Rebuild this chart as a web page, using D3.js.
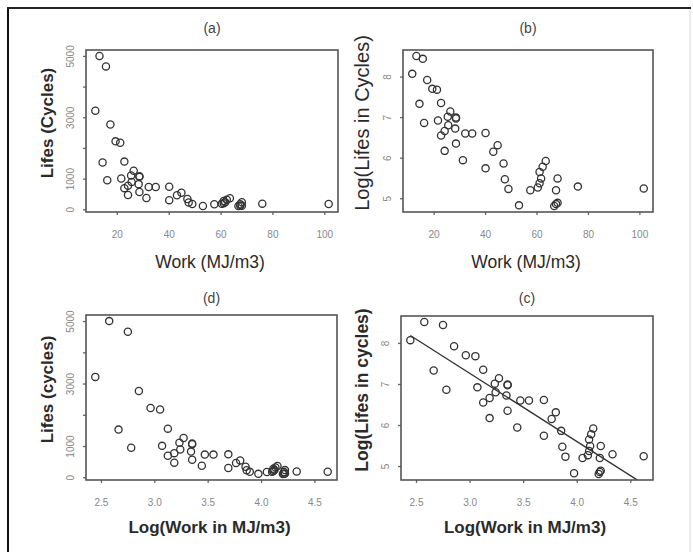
<!DOCTYPE html>
<html>
<head>
<meta charset="utf-8">
<script src="https://cdn.jsdelivr.net/npm/d3@7/dist/d3.min.js"></script>
<style>
  body { margin: 0; background: #fff; }
  svg { display: block; }
</style>
</head>
<body>
<script>
'use strict';

// values: work in MJ/m3, lifes in cycles
var work = [11.5, 13.1, 15.6, 17.3, 19.3, 21.1, 14.3, 22.7, 16.1, 21.5,
  25.3, 26.3, 28.5, 28.5, 22.7, 24.1, 25.5, 28.2, 24.1, 28.5,
  31.2, 32.1, 34.8, 40.0, 44.7, 43.0, 40.0, 47.0, 47.5, 48.9,
  53.0, 57.4, 60.3, 61.0, 61.6, 61.0, 62.2, 63.4, 68.0, 67.4,
  68.0, 67.4, 66.7, 75.9, 101.5]
var lifes = [3229, 5014, 4675, 2779, 2231, 2187, 1541, 1572, 963, 1022,
  1119, 1274, 1075, 1097, 706, 788, 907, 837, 483, 578,
  384, 742, 742, 750, 556, 473, 314, 354, 240, 189,
  126, 183, 196, 217, 245, 287, 327, 376, 245, 183,
  134, 130, 124, 200, 191]

var workTicks = [20, 40, 60, 80, 100]
var lifeTicks = [0, 1000, 2000, 3000, 4000, 5000]
var lifeTickLabels = ['0', '1000', '', '3000', '', '5000']
var logLifeTicks = [5, 6, 7, 8]
var logWorkTicks = [2.5, 3, 3.5, 4, 4.5]
var logWorkTickLabels = ['2.5', '3.0', '3.5', '4.0', '4.5']

var width = 693, height = 552

var svg = d3.select('body').append('svg')
    .attr('width', width)
    .attr('height', height)

// outer frame
svg.append('line').attr('x1', 8).attr('y1', 8).attr('x2', 8).attr('y2', height)
    .attr('stroke', '#111').attr('stroke-width', 2)
svg.append('line').attr('x1', 7).attr('y1', 8).attr('x2', 691).attr('y2', 8)
    .attr('stroke', '#222').attr('stroke-width', 2)
svg.append('line').attr('x1', 690).attr('y1', 9).attr('x2', 690).attr('y2', height)
    .attr('stroke', '#d8d8d8').attr('stroke-width', 1)

var logWork = work.map(function(d){ return Math.log(d) })
var logLifes = lifes.map(function(d){ return Math.log(d) })

// least squares fit for panel (c)
function fit(xs, ys) {
  var mx = d3.mean(xs), my = d3.mean(ys)
  var sxy = d3.sum(xs, function(d, i){ return (d - mx) * (ys[i] - my) })
  var sxx = d3.sum(xs, function(d){ return (d - mx) * (d - mx) })
  var b = sxy / sxx
  return {a: my - b * mx, b: b}
}

var panels = [
  {id: 'a', title: '(a)', box: [86, 50, 338, 212], titleY: 28,
   x: work, y: lifes, xTicks: workTicks, xLabels: workTicks.map(String),
   yTicks: lifeTicks, yLabels: lifeTickLabels,
   xTitle: 'Work (MJ/m3)', xBold: false, xTitleY: 268,
   yTitle: 'Lifes (Cycles)', yBold: true, ySize: 17, yTitleX: 47},
  {id: 'b', title: '(b)', box: [403, 50, 653, 212], titleY: 28,
   x: work, y: logLifes, xTicks: workTicks, xLabels: workTicks.map(String),
   yTicks: logLifeTicks, yLabels: logLifeTicks.map(String),
   xTitle: 'Work (MJ/m3)', xBold: false, xTitleY: 268,
   yTitle: 'Log(Lifes in Cycles)', yBold: false, ySize: 20, yTitleX: 362},
  {id: 'd', title: '(d)', box: [86, 315, 337, 480], titleY: 298,
   x: logWork, y: lifes, xTicks: logWorkTicks, xLabels: logWorkTickLabels,
   yTicks: lifeTicks, yLabels: lifeTickLabels,
   xTitle: 'Log(Work in MJ/m3)', xBold: true, xTitleY: 533,
   yTitle: 'Lifes (cycles)', yBold: true, ySize: 17, yTitleX: 47},
  {id: 'c', title: '(c)', box: [401, 316, 653, 480], titleY: 298,
   x: logWork, y: logLifes, xTicks: logWorkTicks, xLabels: logWorkTickLabels,
   yTicks: logLifeTicks, yLabels: logLifeTicks.map(String),
   xTitle: 'Log(Work in MJ/m3)', xBold: true, xTitleY: 533,
   yTitle: 'Log(Lifes in cycles)', yBold: true, ySize: 17.5, yTitleX: 362,
   fitLine: true}
]

// R style axis range: data extent padded by 4% each side
function padded(values) {
  var e = d3.extent(values), r = e[1] - e[0]
  return [e[0] - 0.04 * r, e[1] + 0.04 * r]
}

panels.forEach(function(p){
  var x0 = p.box[0], y0 = p.box[1], x1 = p.box[2], y1 = p.box[3]
  var x = d3.scaleLinear().domain(padded(p.x)).range([x0, x1])
  var y = d3.scaleLinear().domain(padded(p.y)).range([y1, y0])
  var g = svg.append('g')

  g.append('text')
      .attr('x', (x0 + x1) / 2)
      .attr('y', p.titleY)
      .attr('dy', '0.35em')
      .attr('text-anchor', 'middle')
      .attr('font-family', 'Liberation Sans, Arial, sans-serif')
      .attr('font-size', '14px')
      .attr('fill', '#444')
      .text(p.title)

  // ticks
  g.selectAll('.xt').data(p.xTicks).enter().append('line')
      .attr('x1', function(d){ return x(d) }).attr('x2', function(d){ return x(d) })
      .attr('y1', y1).attr('y2', y1 + 3)
      .attr('stroke', '#666').attr('stroke-width', 1.3)
  g.selectAll('.yt').data(p.yTicks).enter().append('line')
      .attr('y1', function(d){ return y(d) }).attr('y2', function(d){ return y(d) })
      .attr('x1', x0).attr('x2', x0 - 3)
      .attr('stroke', '#666').attr('stroke-width', 1.3)

  g.selectAll('.xl').data(p.xTicks).enter().append('text')
      .attr('x', function(d){ return x(d) })
      .attr('y', y1 + 22)
      .attr('dy', '0.35em')
      .attr('text-anchor', 'middle')
      .attr('font-family', 'Liberation Sans, Arial, sans-serif')
      .attr('font-size', '10px')
      .attr('fill', '#888')
      .text(function(d, i){ return p.xLabels[i] })
  g.selectAll('.yl').data(p.yTicks).enter().append('text')
      .attr('transform', function(d){ return 'translate(' + (x0 - 16) + ',' + y(d) + ') rotate(-90)' })
      .attr('dy', '0.35em')
      .attr('text-anchor', 'middle')
      .attr('font-family', 'Liberation Sans, Arial, sans-serif')
      .attr('font-size', '10px')
      .attr('fill', '#888')
      .text(function(d, i){ return p.yLabels[i] })

  // axis titles
  g.append('text')
      .attr('x', (x0 + x1) / 2 - 2)
      .attr('y', p.xTitleY)
      .attr('text-anchor', 'middle')
      .attr('font-family', 'Liberation Sans, Arial, sans-serif')
      .attr('font-size', p.xBold ? '17px' : '17.5px')
      .attr('font-weight', p.xBold ? 'bold' : 'normal')
      .attr('fill', '#2a2a2a')
      .text(p.xTitle)
  g.append('text')
      .attr('transform', 'translate(' + p.yTitleX + ',' + ((y0 + y1) / 2 - 8) + ') rotate(-90)')
      .attr('dy', '0.35em')
      .attr('text-anchor', 'middle')
      .attr('font-family', 'Liberation Sans, Arial, sans-serif')
      .attr('font-size', p.ySize + 'px')
      .attr('font-weight', p.yBold ? 'bold' : 'normal')
      .attr('fill', '#2a2a2a')
      .text(p.yTitle)

  // points
  g.selectAll('circle').data(p.x).enter().append('circle')
      .attr('cx', function(d){ return x(d) })
      .attr('cy', function(d, i){ return y(p.y[i]) })
      .attr('r', 3.6)
      .attr('fill', 'none')
      .attr('stroke', '#333')
      .attr('stroke-width', 1.3)

  if (p.fitLine) {
    var f = fit(p.x, p.y)
    var clipId = 'clip-' + p.id
    svg.append('clipPath').attr('id', clipId)
      .append('rect').attr('x', x0).attr('y', y0).attr('width', x1 - x0).attr('height', y1 - y0)
    var ext = d3.extent(p.x)
    g.append('line')
        .attr('clip-path', 'url(#' + clipId + ')')
        .attr('x1', x(ext[0])).attr('y1', y(f.a + f.b * ext[0]))
        .attr('x2', x(ext[1])).attr('y2', y(f.a + f.b * ext[1]))
        .attr('stroke', '#333').attr('stroke-width', 1.4)
  }

  // box
  g.append('rect')
      .attr('x', x0).attr('y', y0)
      .attr('width', x1 - x0).attr('height', y1 - y0)
      .attr('fill', 'none')
      .attr('stroke', '#555')
      .attr('stroke-width', 1.6)
})
</script>
</body>
</html>
